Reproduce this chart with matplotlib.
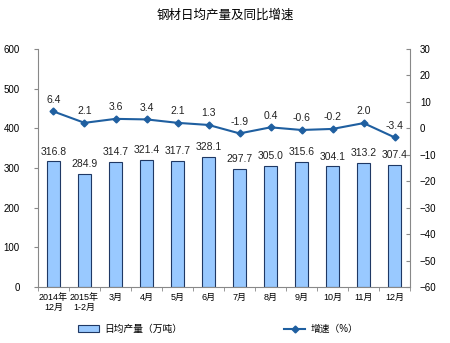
import numpy as np
import matplotlib.pyplot as plt

categories = ['2014年\n12月', '2015年\n1-2月', '3月', '4月', '5月', '6月',
              '7月', '8月', '9月', '10月', '11月', '12月']
output = [316.8, 284.9, 314.7, 321.4, 317.7, 328.1, 297.7, 305.0, 315.6, 304.1, 313.2, 307.4]
growth = [6.4, 2.1, 3.6, 3.4, 2.1, 1.3, -1.9, 0.4, -0.6, -0.2, 2.0, -3.4]

plt.rcParams['font.family'] = ['Liberation Sans', 'Noto Sans CJK SC']

fig = plt.figure(figsize=(4.5, 3.43), dpi=100)
ax = fig.add_axes([0.0844, 0.163, 0.827, 0.694])
x = np.arange(len(categories))

ax.bar(x, output, width=0.42, color='#99C9FF', edgecolor='#1F3864', linewidth=0.8,
       label='日均产量（万吨）')
for xi, v in zip(x, output):
    ax.text(xi, v + 12, f'{v:.1f}', ha='center', va='bottom', fontsize=7.5, color='#222222')

ax.set_xlim(-0.5, len(categories) - 0.5)
ax.set_ylim(0, 600)
ax.set_yticks(range(0, 601, 100))
ax.set_xticks(x)
ax.set_xticklabels(categories, fontsize=6.5)
ax.set_xticks(np.arange(-0.5, len(categories), 1), minor=True)
ax.tick_params(axis='x', which='major', length=0, pad=4)
ax.tick_params(axis='x', which='minor', length=3, color='#888888')
ax.tick_params(axis='y', labelsize=7, length=3, color='#888888', pad=10)
ax.spines['top'].set_visible(False)
ax.spines['right'].set_visible(False)
for s in ['left', 'bottom']:
    ax.spines[s].set_color('#888888')

ax2 = ax.twinx()
ax2.plot(x, growth, color='#1F5FA0', linewidth=1.5, marker='D', markersize=3.5,
         label='增速（%）')
for xi, v in zip(x, growth):
    ax2.text(xi, v + 2.5, f'{v:.1f}', ha='center', va='bottom', fontsize=7.5, color='#222222')
ax2.set_ylim(-60, 30)
ax2.set_yticks(range(-60, 31, 10))
ax2.tick_params(axis='y', labelsize=7, length=3, direction='in', color='#888888', pad=7)
ax2.spines['top'].set_visible(False)
ax2.spines['left'].set_visible(False)
ax2.spines['bottom'].set_visible(False)
ax2.spines['right'].set_color('#888888')

fig.text(0.5, 0.955, '钢材日均产量及同比增速', ha='center', va='center', fontsize=9)

h1, l1 = ax.get_legend_handles_labels()
h2, l2 = ax2.get_legend_handles_labels()
fig.legend(h1 + h2, l1 + l2, loc='center', bbox_to_anchor=(0.484, 0.04), ncol=2,
           frameon=False, fontsize=7, columnspacing=10.5, handlelength=2.2,
           handleheight=0.7, handletextpad=0.5)

fig.savefig('out.png', dpi=100)
